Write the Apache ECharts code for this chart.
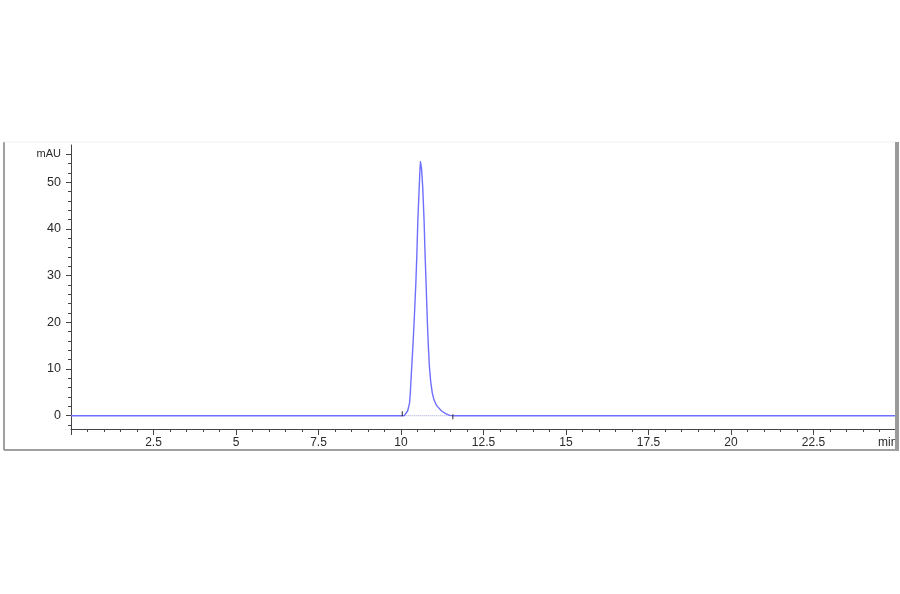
<!DOCTYPE html>
<html>
<head>
<meta charset="utf-8">
<script src="https://cdn.jsdelivr.net/npm/echarts@6/dist/echarts.min.js"></script>
<style>
html,body{margin:0;padding:0;background:#fff;}
#chart{width:900px;height:594px;}
</style>
</head>
<body>
<div id="chart"></div>
<script>
// Retention time (min) and absorbance (mAU)
const timeMin = [0, 2.5, 5, 7.5, 10.0, 10.10, 10.15, 10.20, 10.23, 10.26, 10.28, 10.30, 10.33, 10.36, 10.39, 10.41, 10.45, 10.48, 10.51, 10.55, 10.575, 10.59, 10.60, 10.61, 10.625, 10.66, 10.70, 10.73, 10.76, 10.79, 10.81, 10.83, 10.86, 10.90, 10.95, 11.00, 11.05, 11.10, 11.23, 11.35, 11.48, 11.60, 12.5, 15, 17.5, 20, 22.5, 25];
const absorbance = [0, 0, 0, 0, 0, 0.02, 0.3, 1.0, 1.8, 2.8, 4.6, 7.3, 11, 14.8, 19, 22, 28.4, 34.4, 41.7, 48.7, 52.8, 54.4, 54.8, 54.4, 52.8, 48.7, 41.7, 34.4, 28.4, 22, 18, 14.8, 10.6, 7.3, 4.8, 3.4, 2.6, 2.0, 1.0, 0.45, 0.08, 0, 0, 0, 0, 0, 0, 0];
// Integration start / end events
const integrationTimes = [10.04, 11.57];
// Axis tick labels
const xTickLabels = [2.5, 5, 7.5, 10, 12.5, 15, 17.5, 20, 22.5];
const yMajorTicks = [0, 10, 20, 30, 40, 50, 56];
const yMinorTicks = [-2, 2, 4, 6, 8, 12, 14, 16, 18, 22, 24, 26, 28, 32, 34, 36, 38, 42, 44, 46, 48, 52, 54];
const yUnit = 'mAU';
const xUnit = 'min';

const chart = echarts.init(document.getElementById('chart'), null, {renderer: 'canvas'});
const font = 'Liberation Sans, Arial, sans-serif';
const axisColor = '#444';

const option = {
  animation: false,
  backgroundColor: '#fff',
  grid: {left: 71, right: 4, top: 145, bottom: 165},
  xAxis: {
    type: 'value', min: 0, max: 25, interval: 2.5,
    axisLine: {show: true, onZero: false, lineStyle: {color: axisColor, width: 1}},
    axisTick: {show: true, inside: false, length: 6, lineStyle: {color: axisColor}},
    minorTick: {show: true, splitNumber: 5, length: 3, lineStyle: {color: axisColor}},
    splitLine: {show: false},
    axisLabel: {
      margin: 8, color: '#2a2a2a', fontFamily: font, fontSize: 12,
      customValues: xTickLabels,
      formatter: v => String(v)
    }
  },
  yAxis: [{
    type: 'value', min: -2.85, max: 58,
    axisLine: {show: true, lineStyle: {color: axisColor, width: 1}},
    axisTick: {show: true, length: 5, customValues: yMajorTicks, lineStyle: {color: axisColor}},
    splitLine: {show: false},
    axisLabel: {
      margin: 10, color: '#2a2a2a', fontFamily: font, fontSize: 12.5,
      customValues: yMajorTicks,
      formatter: v => v === 56 ? '{u|' + yUnit + '}' : String(v),
      rich: {u: {fontSize: 11, fontFamily: font, color: '#2a2a2a'}}
    }
  }, {
    type: 'value', min: -2.85, max: 58, position: 'left',
    axisLine: {show: false},
    axisTick: {show: true, length: 3, customValues: yMinorTicks, lineStyle: {color: axisColor}},
    axisLabel: {show: false},
    splitLine: {show: false}
  }],
  series: [{
    type: 'line',
    data: [[integrationTimes[0], 0], [integrationTimes[1], 0]],
    symbol: 'none',
    lineStyle: {color: '#a0a0d8', width: 1, type: 'dotted'},
    z: 2
  }, {
    type: 'line',
    data: timeMin.map((t, i) => [t, absorbance[i]]),
    symbol: 'none',
    smooth: false,
    lineStyle: {color: '#6f6fff', width: 1.4, join: 'round'},
    z: 3
  }, {
    type: 'scatter',
    data: [[integrationTimes[0], 0]],
    symbol: 'rect', symbolSize: [1.2, 5], symbolOffset: [0, -2],
    itemStyle: {color: '#222'}, z: 4
  }, {
    type: 'scatter',
    data: [[integrationTimes[1], 0]],
    symbol: 'rect', symbolSize: [1.2, 5], symbolOffset: [0, 1],
    itemStyle: {color: '#222'}, z: 4
  }],
  graphic: [
    {type: 'text', left: 878, top: 437, z: 5,
     style: {text: xUnit, font: '12px ' + font, fill: '#2a2a2a'}},
    {type: 'line', z: 10, shape: {x1: 4, y1: 142, x2: 4, y2: 450}, style: {stroke: '#808080', lineWidth: 1.5}},
    {type: 'line', z: 10, shape: {x1: 4, y1: 450, x2: 899, y2: 450}, style: {stroke: '#808080', lineWidth: 1.5}},
    {type: 'line', z: 10, shape: {x1: 4, y1: 142, x2: 895, y2: 142}, style: {stroke: '#f0f0f0', lineWidth: 1}},
    {type: 'rect', z: 10, shape: {x: 895, y: 142, width: 4, height: 308}, style: {fill: '#9a9a9a'}}
  ]
};
chart.setOption(option);
</script>
</body>
</html>
